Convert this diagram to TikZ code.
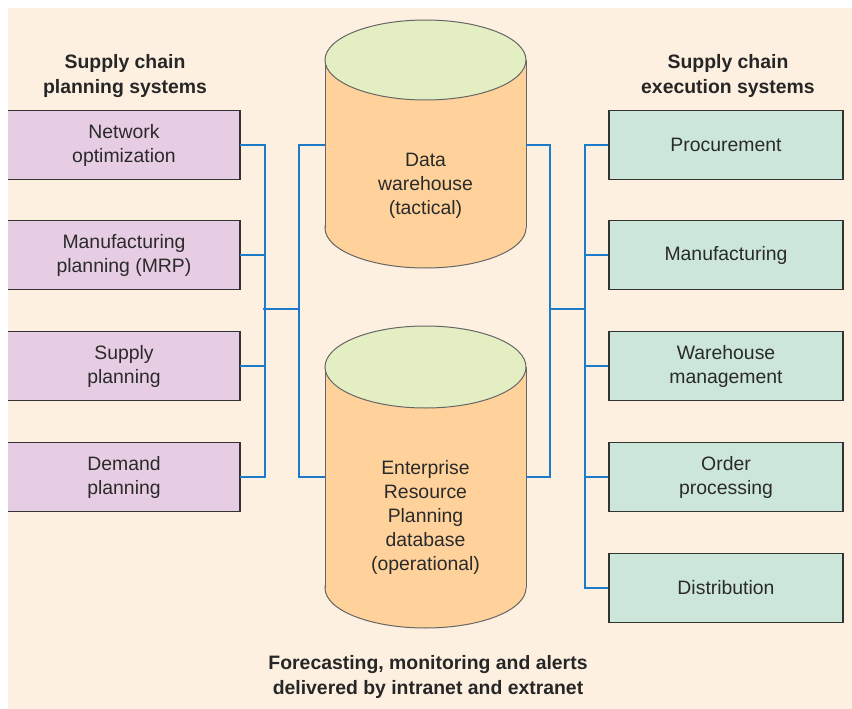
\documentclass[tikz,border=0pt]{standalone}
\usepackage{fontspec}
\setmainfont{Liberation Sans}
\definecolor{bgc}{HTML}{FDF0E1}
\definecolor{plan}{HTML}{E7CDE3}
\definecolor{exec}{HTML}{CCE7DA}
\definecolor{body}{HTML}{FFD29B}
\definecolor{lid}{HTML}{E4EEC3}
\definecolor{wire}{HTML}{1B7BC9}
\definecolor{txt}{HTML}{2A2A2A}
\definecolor{edge}{HTML}{333333}
\tikzset{
  planbox/.style={fill=plan, minimum width=232pt, minimum height=69pt, inner sep=0pt, align=center, text=txt, font=\fontsize{19.4}{24}\selectfont},
  execbox/.style={fill=exec, draw=edge, line width=1.5pt, minimum width=234pt, minimum height=69pt, inner sep=0pt, align=center, text=txt, font=\fontsize{19.4}{24}\selectfont},
  heading/.style={align=center, text=black!85, font=\fontsize{19.4}{24.5}\selectfont\bfseries},
  dblabel/.style={align=center, text=txt, font=\fontsize{19.4}{24}\selectfont, inner sep=0pt},
  conn/.style={draw=wire, line width=2pt},
  border/.style={draw=edge, line width=1.5pt},
  cyl/.style={draw=black!60, line width=1pt}
}
\begin{document}
\begin{tikzpicture}[x=1pt,y=-1pt]
\useasboundingbox (0,0) rectangle (852,709);
\fill[bgc] (8,8) rectangle (852,709);

% headings
\node[heading] (hl) at (125,76) {Supply chain\\planning systems};
\node[heading] (hr) at (728,76) {Supply chain\\execution systems};
\node[heading] (hb) at (428,677) {Forecasting, monitoring and alerts\\delivered by intranet and extranet};

% planning boxes
\node[planbox] (n1) at (124,145) {Network\\optimization};
\node[planbox] (n2) at (124,255) {Manufacturing\\planning (MRP)};
\node[planbox] (n3) at (124,366) {Supply\\planning};
\node[planbox] (n4) at (124,477) {Demand\\planning};
\foreach \n in {n1,n2,n3,n4}{
  \draw[border] (\n.north west) -| (\n.south east) -- (\n.south west);
}

% execution boxes
\node[execbox] (e1) at (726,145) {Procurement};
\node[execbox] (e2) at (726,255) {Manufacturing};
\node[execbox] (e3) at (726,366) {Warehouse\\management};
\node[execbox] (e4) at (726,477) {Order\\processing};
\node[execbox] (e5) at (726,588) {Distribution};

% data warehouse cylinder
\draw[cyl, fill=body] (425.5,228) ellipse [x radius=100.5, y radius=40];
\fill[body] (325,60) rectangle (526,228);
\draw[cyl] (325,60) -- (325,228);
\draw[cyl] (526,60) -- (526,228);
\draw[cyl, fill=lid] (425.5,60) ellipse [x radius=100.5, y radius=40];
\node[minimum width=201pt, minimum height=170pt, inner sep=0pt] (dw) at (425.5,145) {};
\node[dblabel] (dwt) at (425.5,186) {Data\\warehouse\\(tactical)};

% ERP cylinder
\draw[cyl, fill=body] (425.5,588) ellipse [x radius=100.5, y radius=40];
\fill[body] (325,367) rectangle (526,588);
\draw[cyl] (325,367) -- (325,588);
\draw[cyl] (526,367) -- (526,588);
\draw[cyl, fill=lid] (425.5,367) ellipse [x radius=100.5, y radius=41];
\node[minimum width=201pt, minimum height=220pt, inner sep=0pt] (erp) at (425.5,477) {};
\node[dblabel] (erpt) at (425.5,517) {Enterprise\\Resource\\Planning\\database\\(operational)};

% left connectors
\coordinate (lj) at (263,309);
\coordinate (mj) at (299,309);
\draw[conn] (n1.east) -- ++(25,0) |- (n4.east);
\draw[conn] (n2.east) -- ++(25,0);
\draw[conn] (n3.east) -- ++(25,0);
\draw[conn] (lj) -- (mj);
\draw[conn] (dw.west) -- ++(-26,0) |- (erp.west);

% right connectors
\coordinate (rj) at (550,309);
\coordinate (sj) at (586,309);
\draw[conn] (dw.east) -- ++(24,0) |- (erp.east);
\draw[conn] (rj) -- (sj);
\draw[conn] (e1.west) -- ++(-23,0) |- (e5.west);
\draw[conn] (e2.west) -- ++(-23,0);
\draw[conn] (e3.west) -- ++(-23,0);
\draw[conn] (e4.west) -- ++(-23,0);
\end{tikzpicture}
\end{document}
